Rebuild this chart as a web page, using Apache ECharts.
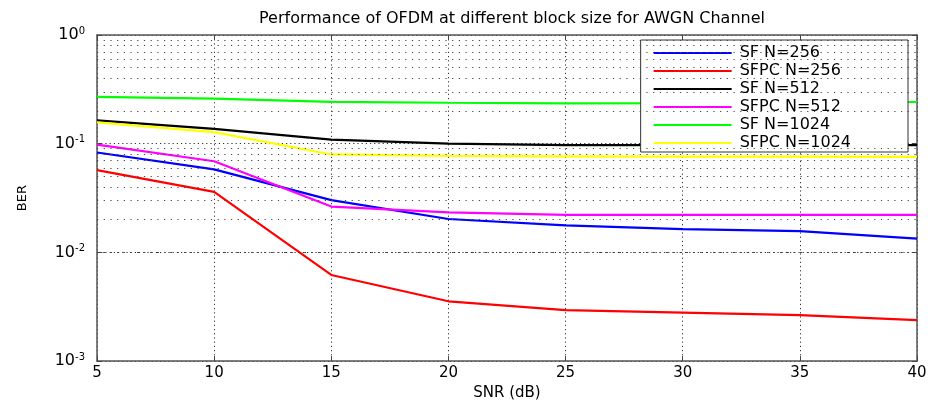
<!DOCTYPE html>
<html>
<head>
<meta charset="utf-8">
<script src="https://cdn.jsdelivr.net/npm/echarts@6/dist/echarts.min.js"></script>
<style>
html,body{margin:0;padding:0;background:#fff;}
#c{width:931px;height:406px;}
</style>
</head>
<body>
<div id="c"></div>
<script>
var snr = [5, 10, 15, 20, 25, 30, 35, 40];
var sfN256   = [0.083, 0.058, 0.0303, 0.0203, 0.0177, 0.0164, 0.0157, 0.0134];
var sfpcN256 = [0.0572, 0.036, 0.0062, 0.00355, 0.00294, 0.00279, 0.00265, 0.00238];
var sfN512   = [0.164, 0.137, 0.109, 0.100, 0.097, 0.097, 0.097, 0.097];
var sfpcN512 = [0.098, 0.069, 0.0264, 0.0233, 0.0221, 0.0221, 0.0221, 0.0221];
var sfN1024  = [0.27, 0.26, 0.243, 0.238, 0.235, 0.236, 0.238, 0.242];
var sfpcN1024= [0.157, 0.128, 0.0796, 0.0774, 0.0765, 0.076, 0.076, 0.0757];
var seriesNames = ['SF N=256','SFPC N=256','SF N=512','SFPC N=512','SF N=1024','SFPC N=1024'];
var seriesColors = ['#0000ff','#ff0000','#000000','#ff00ff','#00ff00','#ffff00'];
var seriesValues = [sfN256, sfpcN256, sfN512, sfpcN512, sfN1024, sfpcN1024];
var minorGridValues = [0.002,0.003,0.004,0.005,0.006,0.007,0.008,0.009,
                       0.02,0.03,0.04,0.05,0.06,0.07,0.08,0.09,
                       0.2,0.3,0.4,0.5,0.6,0.7,0.8,0.9];
var xTicks = {min: 5, max: 40, interval: 5};
var yRange = {min: 0.001, max: 1};

var FONT = 'DejaVu Sans';
var chart = echarts.init(document.getElementById('c'), null, {renderer: 'canvas'});

var series = [];
series.push({
  name: 'minorgrid', type: 'line', data: [], z: 1, silent: true,
  markLine: {
    silent: true, symbol: ['none','none'], animation: false,
    label: {show: false},
    lineStyle: {color: '#444', width: 1, type: [1.2, 5.5]},
    data: minorGridValues.map(function(v){ return {yAxis: v}; })
  }
});
seriesNames.forEach(function(n, i){
  series.push({
    name: n, type: 'line', symbol: 'none', z: 3,
    data: snr.map(function(x, j){ return [x, seriesValues[i][j]]; }),
    lineStyle: {color: seriesColors[i], width: 2.2},
    itemStyle: {color: seriesColors[i]},
    animation: false
  });
});

var sup = {fontSize: 10, verticalAlign: 'top', color: '#000', fontFamily: FONT, padding: [0,0,8,0]};
chart.setOption({
  animation: false,
  backgroundColor: '#fff',
  title: {
    text: 'Performance of OFDM at different block size for AWGN Channel',
    left: 507, top: 6, textAlign: 'center',
    textStyle: {fontFamily: FONT, fontSize: 16, fontWeight: 'normal', color: '#000'}
  },
  grid: {left: 97, right: 14, top: 35, bottom: 37},
  legend: {
    data: seriesNames, orient: 'vertical', right: 23, top: 40,
    padding: [5, 57, 1, 12], itemGap: 2, itemWidth: 78, itemHeight: 16,
    backgroundColor: '#fff', borderColor: '#333', borderWidth: 1,
    itemStyle: {opacity: 0},
    textStyle: {fontFamily: FONT, fontSize: 16, color: '#000', padding: [0,0,0,3]}
  },
  xAxis: [{
    type: 'value', min: xTicks.min, max: xTicks.max, interval: xTicks.interval,
    name: 'SNR (dB)', nameLocation: 'middle', nameGap: 22,
    nameTextStyle: {fontFamily: FONT, fontSize: 15, color: '#000'},
    axisLine: {show: true, lineStyle: {color: '#555', width: 1.5}},
    axisTick: {show: true, inside: true, length: 5, lineStyle: {color: '#444'}},
    axisLabel: {fontFamily: FONT, fontSize: 15, color: '#000', margin: 5},
    splitLine: {show: true, lineStyle: {color: '#333', width: 1, type: [1.2, 3]}}
  }, {
    type: 'value', position: 'top', min: xTicks.min, max: xTicks.max, interval: xTicks.interval,
    axisLine: {show: true, onZero: false, lineStyle: {color: '#555', width: 1.5}},
    axisTick: {show: true, inside: true, length: 5, lineStyle: {color: '#444'}},
    axisLabel: {show: false}, splitLine: {show: false}
  }],
  yAxis: [{
    type: 'log', logBase: 10, min: yRange.min, max: yRange.max,
    name: 'BER', nameLocation: 'middle', nameGap: 68,
    nameTextStyle: {fontFamily: FONT, fontSize: 13, color: '#000'},
    axisLine: {show: true, lineStyle: {color: '#555', width: 1.5}},
    axisTick: {show: true, inside: true, length: 5, lineStyle: {color: '#444'}},
    axisLabel: {
      margin: 12, color: '#000',
      formatter: function(v){
        var e = Math.round(Math.log10(v));
        return '{b|10}{s|' + e + '}';
      },
      rich: {b: {fontFamily: FONT, fontSize: 16, color: '#000'}, s: sup}
    },
    splitLine: {show: true, lineStyle: {color: '#333', width: 1, type: [1.2, 3]}}
  }, {
    type: 'log', logBase: 10, min: yRange.min, max: yRange.max, position: 'right',
    axisLine: {show: true, lineStyle: {color: '#555', width: 1.5}},
    axisTick: {show: true, inside: true, length: 5, lineStyle: {color: '#444'}},
    axisLabel: {show: false}, splitLine: {show: false}
  }],
  series: series
});
</script>
</body>
</html>
